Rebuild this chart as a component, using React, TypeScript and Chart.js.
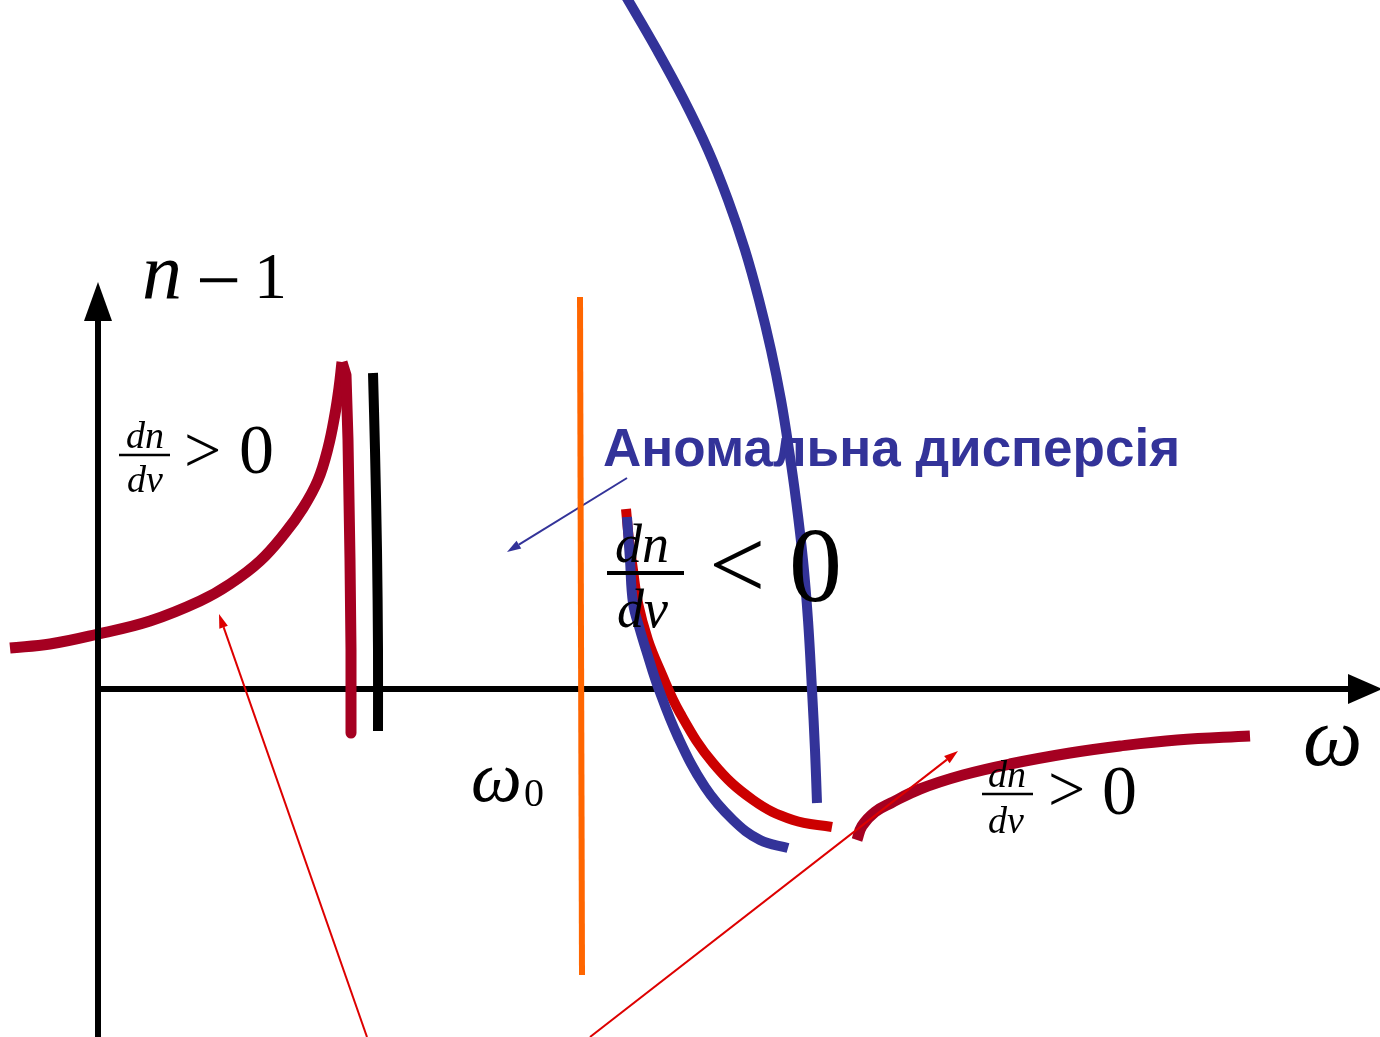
import { useEffect, useRef } from "react";
import { Chart, registerables } from "chart.js";

Chart.register(...registerables);

type P = { x: number; y: number };

// ---- data (units: ω along x, n−1 along y; origin at the axes' crossing) ----
const xAxisLine: P[] = [{ x: 0, y: 0 }, { x: 12.5, y: 0 }];
const xAxisTip: P = { x: 12.84, y: 0 };
const yAxisLine: P[] = [{ x: 0, y: -3.48 }, { x: 0, y: 3.68 }];
const yAxisTip: P = { x: 0, y: 4.07 };

const lowBranchRise: P[] = [
  { x: -0.88, y: 0.41 }, { x: -0.48, y: 0.45 }, { x: 0, y: 0.55 }, { x: 0.52, y: 0.68 },
  { x: 1.02, y: 0.88 }, { x: 1.32, y: 1.05 }, { x: 1.62, y: 1.28 }, { x: 1.87, y: 1.56 },
  { x: 2.05, y: 1.81 }, { x: 2.2, y: 2.09 }, { x: 2.3, y: 2.41 }, { x: 2.37, y: 2.75 },
  { x: 2.41, y: 3.01 }, { x: 2.44, y: 3.27 },
];
const lowBranchFall: P[] = [
  { x: 2.44, y: 3.27 }, { x: 2.48, y: 3.14 }, { x: 2.5, y: 2.49 }, { x: 2.52, y: 1.29 },
  { x: 2.53, y: 0.39 }, { x: 2.53, y: -0.44 },
];
const blackBranch: P[] = [
  { x: 2.75, y: 3.16 }, { x: 2.77, y: 2.39 }, { x: 2.79, y: 1.39 }, { x: 2.8, y: 0.39 }, { x: 2.8, y: -0.42 },
];
const resonanceLine: P[] = [{ x: 4.82, y: 3.92 }, { x: 4.84, y: -2.86 }];
const blueLow: P[] = [
  { x: 5.29, y: 1.72 }, { x: 5.32, y: 1.29 }, { x: 5.35, y: 0.86 }, { x: 5.42, y: 0.59 },
  { x: 5.49, y: 0.36 }, { x: 5.6, y: 0.02 }, { x: 5.8, y: -0.48 }, { x: 6.07, y: -0.98 },
  { x: 6.35, y: -1.31 }, { x: 6.62, y: -1.51 }, { x: 6.9, y: -1.59 },
];
const redLow: P[] = [
  { x: 5.28, y: 1.8 }, { x: 5.31, y: 1.49 }, { x: 5.35, y: 1.19 }, { x: 5.4, y: 0.86 },
  { x: 5.5, y: 0.49 }, { x: 5.62, y: 0.19 }, { x: 5.82, y: -0.24 }, { x: 6.15, y: -0.74 },
  { x: 6.55, y: -1.11 }, { x: 6.95, y: -1.31 }, { x: 7.34, y: -1.38 },
];
const blueHigh: P[] = [
  { x: 5.21, y: 7.04 }, { x: 5.3, y: 6.89 }, { x: 5.59, y: 6.39 }, { x: 5.86, y: 5.89 },
  { x: 6.1, y: 5.39 }, { x: 6.3, y: 4.89 }, { x: 6.47, y: 4.39 }, { x: 6.61, y: 3.89 },
  { x: 6.73, y: 3.39 }, { x: 6.83, y: 2.89 }, { x: 6.91, y: 2.39 }, { x: 6.98, y: 1.89 },
  { x: 7.05, y: 1.29 }, { x: 7.1, y: 0.69 }, { x: 7.14, y: -0.01 }, { x: 7.17, y: -0.61 },
  { x: 7.19, y: -1.14 },
];
const highBranch: P[] = [
  { x: 7.59, y: -1.51 }, { x: 7.64, y: -1.37 }, { x: 7.77, y: -1.23 }, { x: 7.93, y: -1.14 },
  { x: 8.22, y: -1.0 }, { x: 8.65, y: -0.86 }, { x: 9.12, y: -0.75 }, { x: 9.72, y: -0.64 },
  { x: 10.22, y: -0.57 }, { x: 10.79, y: -0.51 }, { x: 11.52, y: -0.47 },
];
const pointerLeft: P[] = [{ x: 2.69, y: -3.48 }, { x: 1.256, y: 0.618 }];
const pointerLeftTip: P = { x: 1.21, y: 0.75 };
const pointerRight: P[] = [{ x: 4.92, y: -3.48 }, { x: 8.489, y: -0.706 }];
const pointerRightTip: P = { x: 8.6, y: -0.62 };
const pointerBlue: P[] = [{ x: 5.29, y: 2.11 }, { x: 4.209, y: 1.4435 }];
const pointerBlueTip: P = { x: 4.09, y: 1.37 };

const fracBarLeft: P[] = [{ x: 0.21, y: 2.34 }, { x: 0.72, y: 2.34 }];
const fracBarBig: P[] = [{ x: 5.09, y: 1.16 }, { x: 5.86, y: 1.16 }];
const fracBarRight: P[] = [{ x: 8.84, y: -1.05 }, { x: 9.35, y: -1.05 }];

// ---- labels ----
const SERIF = '"Liberation Serif", "Times New Roman", serif';
const SANS = '"Liberation Sans", Arial, sans-serif';
type Label = { text: string; x: number; y: number; font: string; color: string; under?: boolean };
const labels: Label[] = [
  { text: "n", x: 0.44, y: 3.91, font: `italic 80px ${SERIF}`, color: "#000" },
  { text: "\u2212", x: 0.98, y: 3.82, font: `80px ${SERIF}`, color: "#000" },
  { text: "1", x: 1.56, y: 3.91, font: `66px ${SERIF}`, color: "#000" },

  { text: "dn", x: 0.28, y: 2.41, font: `italic 38px ${SERIF}`, color: "#000" },
  { text: "dv", x: 0.29, y: 1.97, font: `italic 38px ${SERIF}`, color: "#000" },
  { text: ">", x: 0.86, y: 2.17, font: `66px ${SERIF}`, color: "#000" },
  { text: "0", x: 1.41, y: 2.16, font: `70px ${SERIF}`, color: "#000" },

  { text: "dn", x: 5.17, y: 1.27, font: `italic 54px ${SERIF}`, color: "#000" },
  { text: "dv", x: 5.19, y: 0.62, font: `italic 54px ${SERIF}`, color: "#000" },
  { text: "<", x: 6.11, y: 0.91, font: `100px ${SERIF}`, color: "#000" },
  { text: "0", x: 6.91, y: 0.88, font: `106px ${SERIF}`, color: "#000" },

  { text: "dn", x: 8.9, y: -0.98, font: `italic 38px ${SERIF}`, color: "#000" },
  { text: "dv", x: 8.9, y: -1.44, font: `italic 38px ${SERIF}`, color: "#000" },
  { text: ">", x: 9.5, y: -1.22, font: `66px ${SERIF}`, color: "#000" },
  { text: "0", x: 10.04, y: -1.25, font: `70px ${SERIF}`, color: "#000" },

  { text: "\u03c9", x: 12.05, y: -0.76, font: `italic 84px ${SERIF}`, color: "#000" },
  { text: "\u03c9", x: 3.73, y: -1.12, font: `italic 72px ${SERIF}`, color: "#000" },
  { text: "0", x: 4.26, y: -1.17, font: `40px ${SERIF}`, color: "#000" },

  { text: "Аномальна дисперсія", x: 5.05, y: 2.23, font: `bold 53px ${SANS}`, color: "#333399", under: true },
];

const MAROON = "#A50021";
const BLUE = "#333399";
const RED = "#CC0000";
const POINTER_RED = "#DD0000";
const ORANGE = "#FF6600";

type Head = { line: P[]; tip: P; width: number; color: string };
const heads: Head[] = [
  { line: xAxisLine, tip: xAxisTip, width: 30, color: "#000" },
  { line: yAxisLine, tip: yAxisTip, width: 28, color: "#000" },
  { line: pointerLeft, tip: pointerLeftTip, width: 9, color: POINTER_RED },
  { line: pointerRight, tip: pointerRightTip, width: 9, color: POINTER_RED },
  { line: pointerBlue, tip: pointerBlueTip, width: 9, color: BLUE },
];

function line(data: P[], color: string, width: number, tension = 0.4) {
  return {
    data,
    showLine: true,
    borderColor: color,
    backgroundColor: color,
    borderWidth: width,
    tension,
    pointRadius: 0,
    pointHoverRadius: 0,
    fill: false,
    borderCapStyle: "butt" as const,
    borderJoinStyle: "round" as const,
  };
}

function drawLabels(chart: any, under: boolean) {
  const { ctx, scales } = chart;
  labels
    .filter((l) => !!l.under === under)
    .forEach((l) => {
      ctx.save();
      ctx.font = l.font;
      ctx.fillStyle = l.color;
      ctx.textAlign = "left";
      ctx.textBaseline = "alphabetic";
      ctx.fillText(l.text, scales.x.getPixelForValue(l.x), scales.y.getPixelForValue(l.y));
      ctx.restore();
    });
}

const overlay = {
  id: "overlay",
  beforeDatasetsDraw(chart: any) {
    drawLabels(chart, true);
  },
  afterDatasetsDraw(chart: any) {
    const { ctx, scales } = chart;
    const xs = scales.x;
    const ys = scales.y;
    heads.forEach((h) => {
      const base = h.line[h.line.length - 1];
      const bx = xs.getPixelForValue(base.x);
      const by = ys.getPixelForValue(base.y);
      const tx = xs.getPixelForValue(h.tip.x);
      const ty = ys.getPixelForValue(h.tip.y);
      const dx = tx - bx;
      const dy = ty - by;
      const len = Math.hypot(dx, dy) || 1;
      const nx = -dy / len;
      const ny = dx / len;
      ctx.save();
      ctx.fillStyle = h.color;
      ctx.beginPath();
      ctx.moveTo(tx, ty);
      ctx.lineTo(bx + (nx * h.width) / 2, by + (ny * h.width) / 2);
      ctx.lineTo(bx - (nx * h.width) / 2, by - (ny * h.width) / 2);
      ctx.closePath();
      ctx.fill();
      ctx.restore();
    });
    drawLabels(chart, false);
  },
};

export default function App() {
  const ref = useRef<HTMLCanvasElement | null>(null);
  useEffect(() => {
    document.body.style.margin = "0";
    if (!ref.current) return;
    const chart = new Chart(ref.current, {
      type: "scatter",
      data: {
        datasets: [
          line(fracBarBig, "#000", 4, 0),
          line(fracBarLeft, "#000", 2.5, 0),
          line(fracBarRight, "#000", 2.5, 0),
          line(pointerRight, POINTER_RED, 2, 0),
          line(pointerLeft, POINTER_RED, 2, 0),
          line(resonanceLine, ORANGE, 6, 0),
          line(pointerBlue, BLUE, 2, 0),
          line(yAxisLine, "#000", 6, 0),
          line(blueHigh, BLUE, 10, 0.4),
          line(blueLow, BLUE, 10, 0.4),
          line(redLow, RED, 10, 0.4),
          line(highBranch, MAROON, 11, 0.4),
          line(blackBranch, "#000", 10, 0.3),
          line(lowBranchFall, MAROON, 11, 0),
          line(lowBranchRise, MAROON, 11, 0.4),
          line(xAxisLine, "#000", 6, 0),
        ] as any,
      },
      options: {
        animation: false,
        responsive: false,
        events: [],
        layout: { padding: 0 },
        plugins: { legend: { display: false }, tooltip: { enabled: false } },
        scales: {
          x: { type: "linear", min: -0.98, max: 12.82, display: false },
          y: { type: "linear", min: -3.48, max: 6.89, display: false },
        },
      },
      plugins: [overlay],
    });
    return () => chart.destroy();
  }, []);
  return (
    <div style={{ position: "absolute", left: 0, top: 0, width: 1380, height: 1037, background: "#fff" }}>
      <canvas ref={ref} width={1380} height={1037} style={{ display: "block", width: 1380, height: 1037 }} />
    </div>
  );
}
